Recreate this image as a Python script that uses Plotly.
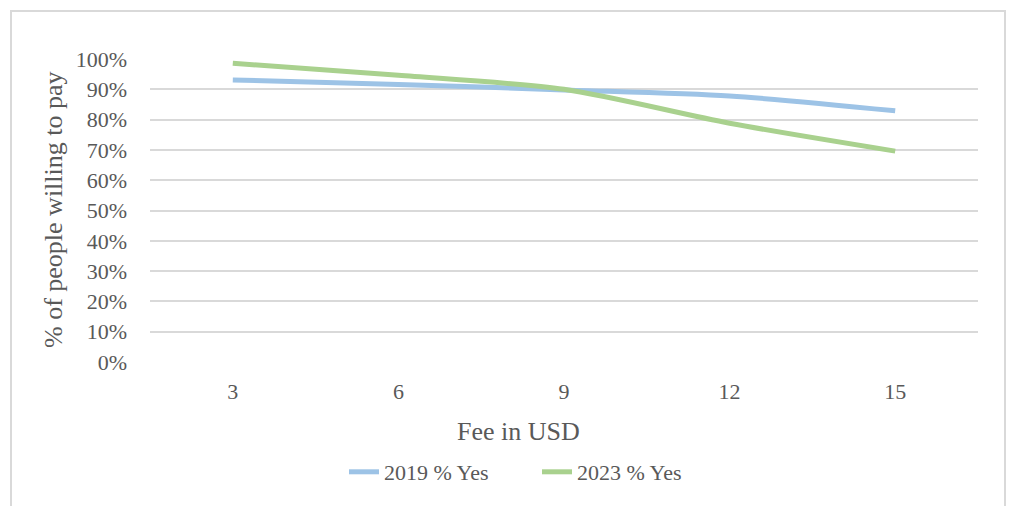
import plotly.graph_objects as go

# Fee levels (USD) and share of respondents willing to pay
fees = ["3", "6", "9", "12", "15"]
yes_2019 = [0.931, 0.916, 0.898, 0.878, 0.829]
yes_2023 = [0.986, 0.946, 0.900, 0.788, 0.696]
y_ticks = [i / 10 for i in range(11)]
y_tick_labels = [f"{i * 10}%" for i in range(11)]

FONT = "Palatino Linotype, Book Antiqua, Palatino, Liberation Serif, serif"
TEXT = "#595959"
GRID = "#D9D9D9"

# plot area in pixels (used to convert to paper coordinates)
W, H = 1010, 506
L, R, T, B = 150, 32, 59, 144
pw, ph = W - L - R, H - T - B


def px_x(x):
    return (x - L) / pw


def px_y(y):
    return (H - B - y) / ph


fig = go.Figure()
fig.add_trace(go.Scatter(
    x=fees, y=yes_2019, name="2019 % Yes", mode="lines",
    line=dict(color="#9DC3E6", width=5, shape="spline", smoothing=0.8),
))
fig.add_trace(go.Scatter(
    x=fees, y=yes_2023, name="2023 % Yes", mode="lines",
    line=dict(color="#A9D18E", width=5, shape="spline", smoothing=0.8),
))

fig.update_layout(
    width=W, height=H,
    margin=dict(l=L, r=R, t=T, b=B),
    paper_bgcolor="white", plot_bgcolor="white",
    font=dict(family=FONT, color=TEXT, size=22),
    showlegend=True,
    legend=dict(
        orientation="h", x=px_x(344), y=px_y(472),
        xanchor="left", yanchor="middle",
        font=dict(family=FONT, size=22, color=TEXT),
        entrywidth=148, entrywidthmode="pixels", traceorder="normal",
    ),
    xaxis=dict(
        type="category", range=[-0.5, 4.5],
        showgrid=False, zeroline=False, showline=False,
        ticks="", tickfont=dict(family=FONT, size=22, color=TEXT),
        ticklabelstandoff=14,
    ),
    yaxis=dict(
        range=[0, 1], tickvals=y_ticks, ticktext=y_tick_labels,
        showgrid=True, gridcolor=GRID, gridwidth=1.5,
        zeroline=False, showline=False, ticks="",
        tickfont=dict(family=FONT, size=22, color=TEXT),
        ticklabelstandoff=22,
    ),
    annotations=[
        dict(text="Fee in USD", xref="paper", yref="paper",
             x=px_x(518), y=px_y(431), xanchor="center", yanchor="middle",
             showarrow=False, font=dict(family=FONT, size=26, color=TEXT)),
        dict(text="% of people willing to pay", xref="paper", yref="paper",
             x=px_x(53), y=px_y(210), xanchor="center", yanchor="middle",
             textangle=-90, showarrow=False,
             font=dict(family=FONT, size=26, color=TEXT)),
    ],
    shapes=[
        dict(type="rect", xref="paper", yref="paper",
             x0=px_x(11), x1=px_x(1005), y0=px_y(520), y1=px_y(11),
             line=dict(color=GRID, width=2), fillcolor="rgba(0,0,0,0)",
             layer="below"),
    ],
)

fig.write_html("out.html")
